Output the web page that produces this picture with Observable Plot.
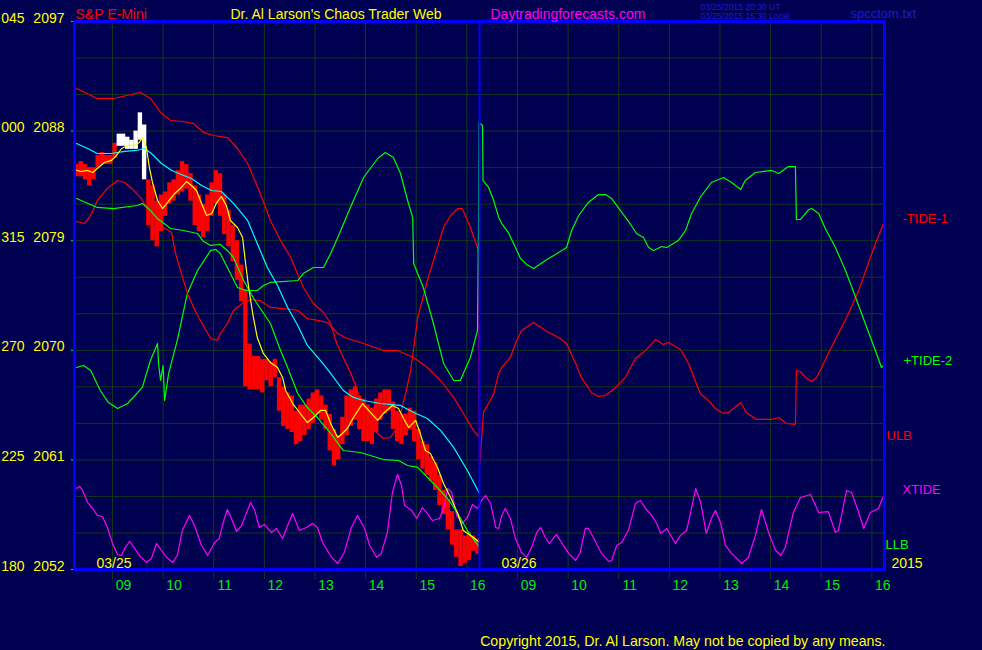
<!DOCTYPE html>
<html><head><meta charset="utf-8">
<script src="https://cdn.jsdelivr.net/npm/d3@7"></script>
<script src="https://cdn.jsdelivr.net/npm/@observablehq/plot@0.6"></script>
<style>
html,body{margin:0;padding:0;background:#000050;overflow:hidden}
#chart svg{display:block}
</style></head><body><div id="chart"></div>
<script>
// ---------- axis / label data ----------
const hourTickTimes = [0.75,1.75,2.75,3.75,4.75,5.75,6.75,7.75, 8.75,9.75,10.75,11.75,12.75,13.75,14.75,15.75]; // hours since 08:15 of 03/25 session
const hourTickLabels = ["09","10","11","12","13","14","15","16","09","10","11","12","13","14","15","16"];
const dayStarts = [0, 8];
const dayLabels = ["03/25", "03/26"];
const dayBreak = [8];
const yearLabel = "2015";
const priceTicks = [2052, 2061, 2070, 2079, 2088, 2097];
const angleLabels = ["180", "225", "270", "315", "000", "045"];
const gridPrices = [2052,2055,2058,2061,2064,2067,2070,2073,2076,2079,2082,2085,2088,2091,2094,2097];

// ---------- price bars (5-minute bars, day 1) ----------
const barMinutes = 5;
const barHigh = [2085.25,2085.5,2085.25,2085.0,2085.0,2086.0,2086.25,2086.0,2086.0,2087.0,
  2087.75,2087.75,2087.5,2087.25,2088.0,2089.5,2088.5,2084.0,2083.5,2082.25,
  2082.75,2083.0,2083.75,2084.0,2084.75,2085.5,2085.25,2084.5,2083.5,2082.75,
  2082.0,2082.75,2083.75,2084.75,2084.5,2082.75,2081.5,2080.25,2079.0,2077.0,
  2075.0,2070.5,2069.5,2069.5,2069.25,2069.25,2069.0,2069.25,2067.75,2067.0,
  2066.5,2066.25,2065.0,2065.5,2065.5,2066.0,2066.5,2066.75,2066.25,2065.5,
  2064.75,2063.5,2063.0,2064.5,2066.25,2066.75,2067.0,2066.25,2066.0,2065.5,
  2065.25,2066.0,2066.5,2066.75,2066.75,2065.75,2065.0,2064.75,2064.75,2065.25,
  2065.0,2063.5,2062.5,2062.25,2061.25,2060.75,2059.75,2058.5,2057.75,2056.75,
  2055.25,2055.25,2054.75,2055.0,2054.75,2054.5];
const barLow = [2084.25,2084.25,2084.0,2083.5,2084.0,2085.0,2085.25,2085.25,2085.25,2085.75,
  2086.75,2086.75,2086.5,2086.5,2086.5,2087.25,2084.0,2080.25,2079.0,2078.5,
  2079.75,2081.0,2082.0,2082.25,2082.75,2083.0,2083.25,2082.25,2080.25,2079.75,
  2079.25,2079.75,2081.0,2082.0,2081.0,2079.5,2078.5,2077.25,2075.75,2074.0,
  2067.0,2066.75,2066.75,2066.75,2066.5,2067.5,2067.0,2067.75,2065.0,2063.75,
  2063.5,2063.25,2062.25,2062.5,2063.0,2063.5,2064.0,2064.75,2064.25,2063.5,
  2061.75,2060.5,2061.0,2062.25,2063.0,2063.75,2064.25,2063.5,2062.5,2062.5,
  2062.25,2063.25,2064.25,2064.75,2065.0,2063.5,2062.5,2062.25,2063.0,2063.5,
  2062.5,2061.0,2060.25,2059.75,2059.25,2058.5,2057.25,2056.5,2055.25,2054.0,
  2053.0,2052.25,2052.5,2052.75,2053.5,2053.25];
const whiteBarFirst = 10, whiteBarLast = 16;

// ---------- line series: [hours since 03/25 08:15, value on price scale] ----------
const tide1 = [[0.04,2091.50],[0.45,2090.68],[0.77,2090.68],[1.30,2091.17],[1.50,2090.68],[1.70,2089.53],[1.90,2088.87],[2.15,2088.79],[2.35,2088.62],[2.55,2087.89],[2.75,2087.64],[3.02,2087.47],[3.22,2086.57],[3.42,2085.34],[3.67,2082.88],[3.87,2080.66],[4.07,2079.02],[4.27,2077.62],[4.52,2075.16],[4.72,2073.84],[4.92,2073.10],[5.06,2072.20],[5.18,2070.56],[5.31,2069.41],[5.45,2068.18],[5.57,2066.95],[5.65,2065.63],[5.79,2064.24],[5.99,2063.17],[6.10,2062.76],[6.24,2062.84],[6.34,2063.42],[6.44,2064.81],[6.54,2066.45],[6.64,2068.34],[6.78,2072.69],[6.97,2075.73],[7.17,2078.44],[7.29,2080.08],[7.43,2081.07],[7.57,2081.64],[7.66,2081.64],[7.82,2080.08],[7.96,2078.44],[7.98,2077.95],[8.00,2060.38],
  [8.08,2064.92],[8.18,2065.63],[8.28,2066.45],[8.38,2068.10],[8.44,2068.59],[8.61,2069.41],[8.71,2070.56],[8.83,2071.63],[9.07,2072.28],[9.30,2071.63],[9.56,2071.05],[9.72,2070.56],[9.90,2068.92],[10.01,2067.77],[10.21,2066.54],[10.35,2066.21],[10.49,2066.29],[10.69,2066.95],[10.88,2067.77],[11.08,2069.33],[11.28,2069.98],[11.48,2070.89],[11.63,2070.48],[11.73,2070.64],[11.97,2070.07],[12.13,2068.92],[12.36,2066.45],[12.52,2065.88],[12.66,2065.22],[12.82,2064.81],[12.92,2064.89],[13.16,2065.71],[13.27,2064.89],[13.47,2064.32],[13.77,2064.32],[13.91,2064.48],[14.06,2063.99],[14.24,2063.91],[14.26,2068.34],[14.34,2068.26],[14.44,2067.77],[14.56,2067.44],[14.66,2067.77],[14.76,2068.59],[14.89,2069.74],[15.09,2071.38],[15.29,2073.02],[15.49,2074.91],[15.68,2077.13],[15.82,2078.77],[15.98,2080.41]];

const tide2 = [[0.04,2068.59],[0.18,2068.75],[0.32,2068.34],[0.51,2066.70],[0.67,2065.71],[0.85,2065.22],[1.05,2065.63],[1.34,2066.95],[1.50,2069.16],[1.64,2070.56],[1.66,2068.92],[1.70,2067.52],[1.75,2068.75],[1.78,2065.88],[1.86,2068.10],[2.03,2070.81],[2.23,2074.67],[2.43,2076.55],[2.69,2078.20],[2.79,2078.28],[2.88,2077.95],[3.02,2076.80],[3.22,2075.16],[3.38,2074.91],[3.61,2074.91],[3.73,2075.32],[3.87,2075.57],[4.41,2075.73],[4.52,2076.31],[4.72,2076.80],[4.92,2076.80],[5.06,2077.95],[5.20,2079.26],[5.45,2081.73],[5.71,2084.19],[5.99,2085.75],[6.14,2086.24],[6.30,2085.83],[6.44,2084.52],[6.58,2082.30],[6.68,2080.91],[6.70,2077.13],[6.89,2075.16],[7.09,2072.20],[7.29,2068.92],[7.49,2067.52],[7.62,2067.52],[7.82,2069.41],[7.96,2071.63],[7.98,2079.84],[7.99,2088.71],[8.06,2088.46],[8.07,2083.94],
  [8.18,2083.37],[8.28,2082.30],[8.38,2080.91],[8.44,2080.41],[8.57,2079.67],[8.71,2078.44],[8.81,2077.54],[8.93,2077.05],[9.07,2076.72],[9.30,2077.38],[9.50,2077.87],[9.72,2078.44],[9.82,2079.84],[9.96,2081.07],[10.15,2082.14],[10.35,2082.79],[10.49,2082.79],[10.61,2082.47],[10.81,2081.32],[11.00,2080.25],[11.10,2079.59],[11.24,2079.26],[11.34,2078.44],[11.44,2078.20],[11.60,2078.52],[11.70,2078.44],[11.93,2079.02],[12.07,2079.84],[12.19,2081.23],[12.36,2082.55],[12.58,2083.78],[12.82,2084.19],[12.98,2083.78],[13.16,2083.20],[13.25,2083.94],[13.45,2084.60],[13.77,2084.77],[13.91,2084.52],[14.10,2085.09],[14.24,2085.09],[14.26,2080.74],[14.34,2080.74],[14.50,2081.56],[14.56,2081.64],[14.70,2081.23],[14.83,2080.00],[15.03,2078.44],[15.23,2076.55],[15.43,2074.34],[15.62,2072.20],[15.82,2069.98],[15.94,2068.59],[16.00,2068.83]];

const xtide = [[0.04,2058.65],[0.10,2058.82],[0.16,2058.49],[0.26,2057.50],[0.36,2057.01],[0.45,2056.44],[0.55,2056.35],[0.65,2055.45],[0.75,2054.14],[0.85,2053.23],[0.93,2053.15],[0.99,2053.73],[1.09,2054.30],[1.19,2053.73],[1.28,2053.15],[1.42,2052.58],[1.52,2052.91],[1.62,2054.14],[1.72,2053.56],[1.82,2052.99],[1.94,2052.58],[2.03,2053.15],[2.13,2055.20],[2.27,2056.44],[2.37,2055.61],[2.51,2053.97],[2.63,2053.15],[2.77,2054.22],[2.86,2054.55],[2.96,2056.19],[3.02,2056.93],[3.10,2056.19],[3.20,2055.12],[3.30,2055.61],[3.40,2056.68],[3.48,2057.50],[3.56,2056.85],[3.65,2055.45],[3.75,2055.70],[3.89,2055.04],[3.99,2055.37],[4.11,2054.55],[4.21,2055.61],[4.31,2056.60],[4.44,2055.20],[4.58,2055.45],[4.70,2055.78],[4.80,2055.45],[4.90,2054.22],[5.08,2052.99],[5.20,2052.49],[5.33,2053.40],[5.47,2055.45],[5.59,2056.44],[5.73,2055.37],[5.83,2053.97],[5.97,2052.99],[6.06,2053.32],[6.18,2055.04],[6.28,2058.32],[6.38,2059.80],[6.46,2058.90],[6.52,2057.26],[6.66,2056.85],[6.76,2056.19],[6.87,2057.09],[6.97,2056.60],[7.07,2056.02],[7.21,2056.19],[7.31,2057.26],[7.37,2058.65],[7.45,2058.32],[7.55,2056.44],[7.66,2055.78],[7.76,2056.27],[7.86,2057.34],[7.96,2057.01],
  [8.04,2057.67],[8.12,2058.08],[8.22,2057.42],[8.32,2055.45],[8.38,2055.37],[8.44,2056.44],[8.51,2057.01],[8.61,2056.19],[8.71,2054.55],[8.83,2053.40],[8.93,2052.99],[9.03,2053.81],[9.13,2055.04],[9.21,2055.45],[9.30,2054.63],[9.38,2054.14],[9.52,2054.88],[9.62,2054.22],[9.76,2053.32],[9.90,2052.74],[9.99,2053.40],[10.09,2055.37],[10.15,2055.37],[10.25,2054.63],[10.41,2053.32],[10.55,2052.66],[10.61,2052.74],[10.71,2053.97],[10.81,2054.22],[10.94,2055.20],[11.08,2057.42],[11.18,2057.67],[11.28,2057.01],[11.40,2056.44],[11.50,2055.78],[11.58,2054.96],[11.70,2055.37],[11.87,2054.14],[11.97,2054.80],[12.09,2055.20],[12.17,2056.68],[12.27,2058.65],[12.37,2057.50],[12.48,2054.96],[12.58,2056.19],[12.66,2056.85],[12.76,2055.86],[12.86,2053.97],[12.98,2053.32],[13.18,2052.49],[13.31,2052.99],[13.45,2054.80],[13.57,2056.93],[13.71,2055.04],[13.85,2053.56],[13.95,2053.15],[14.04,2053.81],[14.20,2056.68],[14.34,2057.91],[14.54,2058.16],[14.70,2056.68],[14.89,2056.76],[15.03,2055.04],[15.09,2055.20],[15.25,2058.49],[15.35,2058.32],[15.49,2056.68],[15.59,2055.37],[15.72,2056.68],[15.88,2057.01],[16.00,2058.24]];

const ulb = [[0.04,2080.58],[0.20,2080.41],[0.34,2081.23],[0.45,2082.30],[0.65,2083.29],[0.85,2083.94],[0.99,2083.78],[1.13,2083.29],[1.32,2082.47],[1.52,2081.07],[1.70,2080.25],[1.92,2079.67],[1.98,2078.20],[2.11,2076.31],[2.23,2074.67],[2.43,2072.86],[2.69,2070.97],[2.82,2070.81],[2.88,2071.38],[3.02,2072.20],[3.14,2073.27],[3.34,2073.93],[3.48,2074.17],[3.67,2074.09],[3.87,2073.52],[4.13,2073.43],[4.41,2073.27],[4.60,2072.61],[4.80,2072.45],[5.00,2072.28],[5.20,2071.38],[5.39,2070.97],[5.65,2070.64],[6.10,2069.98],[6.38,2069.98],[6.70,2069.41],[6.97,2068.59],[7.23,2067.52],[7.49,2066.13],[7.68,2064.81],[7.88,2063.42],[8.00,2062.84]];

const llb = [[0.04,2082.47],[0.45,2081.73],[0.77,2081.64],[1.24,2081.89],[1.34,2082.06],[1.50,2081.48],[1.64,2080.82],[1.90,2080.00],[2.15,2079.84],[2.43,2079.59],[2.55,2078.93],[2.69,2078.61],[2.88,2078.69],[3.02,2078.20],[3.14,2077.62],[3.34,2075.73],[3.54,2074.25],[3.67,2073.43],[3.87,2072.20],[4.07,2069.98],[4.21,2068.59],[4.41,2066.45],[4.60,2065.30],[4.80,2064.48],[5.06,2063.17],[5.31,2061.77],[5.65,2061.61],[6.10,2061.03],[6.40,2060.95],[6.58,2060.54],[6.78,2060.38],[6.97,2059.56],[7.17,2058.73],[7.37,2057.83],[7.57,2056.60],[7.76,2055.20],[8.00,2053.81]];

const maLong = [[0.04,2086.98],[0.26,2086.57],[0.45,2086.16],[0.73,2086.16],[0.99,2086.33],[1.22,2086.41],[1.38,2086.57],[1.52,2086.16],[1.72,2085.34],[1.92,2084.77],[2.11,2084.44],[2.31,2084.11],[2.51,2083.53],[2.71,2083.12],[2.90,2083.04],[3.14,2082.06],[3.42,2080.66],[3.61,2078.77],[3.81,2076.80],[4.01,2075.32],[4.21,2073.52],[4.41,2072.04],[4.60,2070.40],[4.86,2069.16],[5.06,2068.10],[5.31,2066.70],[5.51,2066.13],[5.71,2065.88],[6.04,2065.63],[6.44,2065.47],[6.70,2064.89],[6.97,2064.40],[7.23,2063.42],[7.49,2062.02],[7.76,2060.13],[8.00,2058.24]];

const maShort = [[0.04,2084.77],[0.14,2084.68],[0.26,2084.77],[0.36,2084.60],[0.45,2084.93],[0.59,2085.42],[0.73,2085.59],[0.83,2086.00],[0.93,2086.57],[1.05,2086.82],[1.19,2086.82],[1.28,2087.06],[1.34,2087.47],[1.42,2086.65],[1.48,2085.01],[1.54,2083.78],[1.64,2082.30],[1.74,2081.64],[1.84,2082.14],[1.98,2082.88],[2.11,2083.37],[2.21,2083.86],[2.31,2083.53],[2.41,2083.12],[2.51,2082.06],[2.61,2081.07],[2.71,2081.23],[2.80,2082.06],[2.90,2082.63],[3.00,2081.89],[3.08,2080.66],[3.22,2080.08],[3.32,2079.26],[3.38,2077.13],[3.44,2075.16],[3.52,2073.02],[3.61,2071.05],[3.73,2069.74],[3.87,2069.00],[4.01,2068.59],[4.11,2067.77],[4.17,2066.70],[4.31,2065.63],[4.46,2064.81],[4.60,2064.07],[4.72,2064.48],[4.86,2065.06],[4.96,2065.06],[5.06,2063.99],[5.20,2062.84],[5.29,2063.17],[5.39,2063.58],[5.51,2064.48],[5.69,2065.63],[5.85,2064.89],[5.99,2064.24],[6.10,2064.81],[6.28,2065.47],[6.40,2065.22],[6.50,2064.40],[6.60,2063.66],[6.74,2064.24],[6.83,2063.17],[6.93,2061.77],[7.03,2061.53],[7.17,2060.38],[7.29,2059.06],[7.43,2057.91],[7.57,2056.60],[7.68,2055.20],[7.88,2054.63],[8.00,2054.22]];

const seriesLabels = ["-TIDE-1", "+TIDE-2", "ULB", "XTIDE", "LLB"];

// ---------- styling ----------
const BG = "#000050", GRID = "#12381a", BLUE = "#0000ff";
const RED = "#ff0000", GREEN = "#00ff00", CYAN = "#00ffff", YELLOW = "#ffff00", MAGENTA = "#ff00ff", WHITE = "#ffffff";
const HOUR_GREEN = "#00ee00", STAMP_BLUE = "#1c1cd8";
const FONT = "'Liberation Sans', Arial, sans-serif";

const bars = barHigh.map((h, i) => ({
  t: (i + 0.5) * barMinutes / 60, high: h, low: barLow[i],
  color: (i >= whiteBarFirst && i <= whiteBarLast) ? WHITE : RED
}));

const P = d => d[0], V = d => d[1];
const lineOpts = (stroke) => ({x: P, y: V, stroke, strokeWidth: 1.2, curve: "linear"});
const last = a => a[a.length - 1][1];

const labelSpecs = [
  {text: seriesLabels[0], v: last(tide1), fill: RED, dx: 18, dy: -5},
  {text: seriesLabels[1], v: last(tide2), fill: GREEN, dx: 19, dy: -4},
  {text: seriesLabels[2], v: last(ulb), fill: RED, dx: 2, dy: -2},
  {text: seriesLabels[3], v: last(xtide), fill: MAGENTA, dx: 18, dy: -4},
  {text: seriesLabels[4], v: last(llb), fill: GREEN, dx: 1, dy: -3}
];

const txt = (s, o) => Plot.text([s], {text: d => d, lineAnchor: "bottom", textAnchor: "start", fontSize: 14, ...o});

const chart = Plot.plot({
  width: 982, height: 650,
  marginTop: 21, marginLeft: 74, marginRight: 98, marginBottom: 81,
  style: {background: BG, fontFamily: FONT, fontSize: "14px", overflow: "visible"},
  x: {domain: [0, 16], axis: null},
  y: {domain: [2052, 2097], axis: null},
  marks: [
    Plot.ruleY(gridPrices, {stroke: GRID, strokeWidth: 1}),
    Plot.ruleX(hourTickTimes, {stroke: GRID, strokeWidth: 1}),
    Plot.axisX(hourTickTimes, {anchor: "bottom", tickSize: 10, stroke: GRID, tickFormat: () => "", label: null}),
    Plot.axisY(priceTicks, {anchor: "left", tickSize: 3, stroke: GREEN, tickFormat: () => "", label: null}),
    Plot.ruleX(bars, {x: "t", y1: "low", y2: "high", stroke: "color", strokeWidth: 4.4}),
    Plot.line(xtide, lineOpts(MAGENTA)),
    Plot.line(tide1, lineOpts(RED)),
    Plot.line(tide2, lineOpts(GREEN)),
    Plot.line(ulb, lineOpts(RED)),
    Plot.line(llb, lineOpts(GREEN)),
    Plot.line(maLong, lineOpts(CYAN)),
    Plot.line(maShort, lineOpts(YELLOW)),
    Plot.ruleX(dayBreak, {stroke: BLUE, strokeWidth: 2}),
    Plot.frame({stroke: BLUE, strokeWidth: 3}),
    // left axis labels
    Plot.text(priceTicks, {y: d => d, text: d => String(d), frameAnchor: "left", dx: -10, dy: 1, textAnchor: "end", lineAnchor: "bottom", fill: YELLOW, fontSize: 14}),
    Plot.text(priceTicks, {y: d => d, text: (d, i) => angleLabels[i], frameAnchor: "left", dx: -50, dy: 1, textAnchor: "end", lineAnchor: "bottom", fill: YELLOW, fontSize: 14}),
    // hour labels
    Plot.text(hourTickTimes, {x: d => d, text: (d, i) => hourTickLabels[i], frameAnchor: "bottom", dx: 11, dy: 20, textAnchor: "middle", lineAnchor: "bottom", fill: HOUR_GREEN, fontSize: 14}),
    // day labels
    Plot.text(dayStarts, {x: d => d, text: (d, i) => dayLabels[i], frameAnchor: "bottom", dx: 22, dy: -2, textAnchor: "start", lineAnchor: "bottom", fill: YELLOW, fontSize: 14}),
    txt(yearLabel, {frameAnchor: "bottom-right", dx: 7, dy: -2, fill: YELLOW}),
    // series labels at right
    ...labelSpecs.map(s => Plot.text([s], {y: "v", text: "text", frameAnchor: "right", dx: s.dx, dy: s.dy, textAnchor: "start", lineAnchor: "middle", fill: s.fill, fontSize: 13})),
    // header
    txt("S&P E-Mini", {frameAnchor: "top-left", dx: 1, dy: -3, fill: RED}),
    txt("Dr. Al Larson's Chaos Trader Web", {frameAnchor: "top-left", dx: 156, dy: -3, fill: YELLOW}),
    txt("Daytradingforecasts.com", {frameAnchor: "top-left", dx: 416, dy: -3, fill: MAGENTA}),
    txt("03/25/2015 20:30 UT\n03/25/2015 15:30 Local", {frameAnchor: "top-left", dx: 626, dy: -3, fill: STAMP_BLUE, fontSize: 8.5, lineHeight: 1.0}),
    txt("spcctom.txt", {frameAnchor: "top-left", dx: 776, dy: -4, fill: STAMP_BLUE, fontSize: 13}),
    // copyright
    txt("Copyright 2015, Dr. Al Larson. May not be copied by any means.", {frameAnchor: "bottom-right", dx: 1, dy: 76, textAnchor: "end", fill: YELLOW, fontSize: 14.2})
  ]
});
document.getElementById("chart").appendChild(chart);
</script></body></html>
